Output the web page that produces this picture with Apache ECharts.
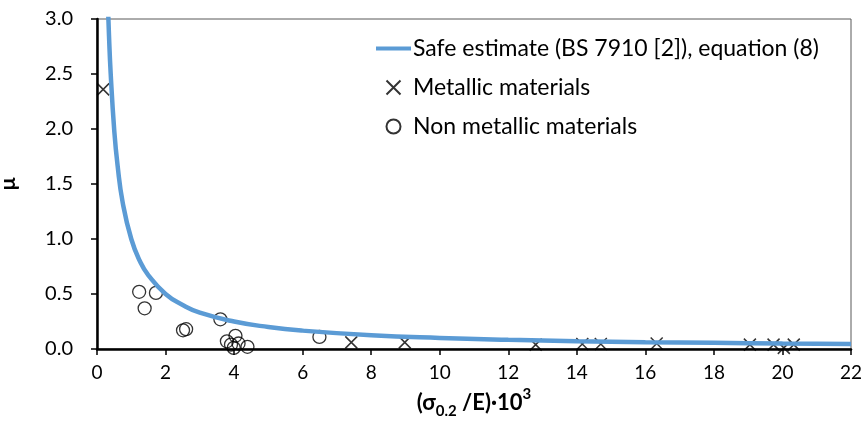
<!DOCTYPE html>
<html>
<head>
<meta charset="utf-8">
<script src="https://cdn.jsdelivr.net/npm/echarts@6/dist/echarts.min.js"></script>
<style>
  html, body { margin: 0; padding: 0; background: #fff; }
  #chart { width: 867px; height: 424px; }
</style>
</head>
<body>
<div id="chart"></div>
<script>
// safe estimate curve
var curveX = [0.31, 0.35, 0.4, 0.5, 0.6, 0.75, 1, 1.25, 1.5, 2, 2.5, 3, 4, 5, 6, 8, 10, 12, 14, 16, 18, 20, 22];
var curveY = [3.2, 2.85, 2.5, 2.0, 1.67, 1.33, 1.0, 0.8, 0.67, 0.5, 0.4, 0.33, 0.25, 0.2, 0.167, 0.125, 0.1, 0.083, 0.071, 0.062, 0.056, 0.05, 0.045];

// metallic materials (x markers)
var metalX = [0.18, 7.42, 8.98, 12.8, 14.16, 14.7, 16.33, 19.05, 19.74, 20.04, 20.33];
var metalY = [2.36, 0.06, 0.06, 0.04, 0.045, 0.045, 0.05, 0.04, 0.04, 0.01, 0.04];

// non metallic materials (circles)
var nonMetalX = [1.23, 1.72, 1.39, 2.51, 2.6, 3.6, 3.79, 4.04, 3.91, 4.13, 3.99, 4.39, 6.49];
var nonMetalY = [0.52, 0.51, 0.37, 0.17, 0.18, 0.27, 0.07, 0.12, 0.04, 0.05, 0.01, 0.02, 0.11];

var xTicks = { min: 0, max: 22, interval: 2 };
var yTicks = { min: 0, max: 3, interval: 0.5 };

var seriesNames = [
  "Safe estimate (BS 7910 [2]), equation (8)",
  "Metallic materials",
  "Non metallic materials"
];

function pairs(xs, ys) {
  return xs.map(function (x, i) { return [x, ys[i]]; });
}

var font = "Lato, 'Open Sans', sans-serif";
var chart = echarts.init(document.getElementById("chart"));

var option = {
  animation: false,
  textStyle: { fontFamily: font },
  grid: {
    left: 97,
    right: 16,
    top: 19,
    bottom: 75,
    outerBoundsMode: "none",
    show: true,
    borderColor: "#595959",
    borderWidth: 1
  },
  legend: {
    orient: "vertical",
    left: 371,
    top: 32,
    itemGap: 16,
    itemWidth: 35,
    itemHeight: 14,
    data: [
      { name: seriesNames[0], icon: "path://M0 0H35V4H0Z" },
      { name: seriesNames[1] },
      { name: seriesNames[2] }
    ],
    textStyle: { fontSize: 23, color: "#000", fontFamily: font, padding: [0, 0, 0, -3] }
  },
  xAxis: {
    type: "value",
    min: xTicks.min,
    max: xTicks.max,
    interval: xTicks.interval,
    name: "{m|(σ}{sub|0.2}{m| /E)·10}{sup|3}",
    nameLocation: "middle",
    nameGap: 36,
    nameTextStyle: {
      fontSize: 22,
      fontWeight: "bold",
      color: "#000",
      rich: {
        m: { fontSize: 22, fontWeight: "bold", color: "#000", lineHeight: 32, verticalAlign: "middle" },
        sub: { fontSize: 15, fontWeight: "bold", color: "#000", lineHeight: 16, verticalAlign: "bottom" },
        sup: { fontSize: 15, fontWeight: "bold", color: "#000", lineHeight: 22, verticalAlign: "top" }
      }
    },
    axisLine: { show: true, onZero: false, lineStyle: { color: "#000", width: 2.5 } },
    axisTick: { show: true, length: 6, lineStyle: { color: "#000", width: 1.5 } },
    axisLabel: { fontSize: 19, color: "#000", margin: 14 },
    splitLine: { show: false }
  },
  yAxis: {
    type: "value",
    min: yTicks.min,
    max: yTicks.max,
    interval: yTicks.interval,
    name: "μ",
    nameLocation: "middle",
    nameGap: 78,
    nameTextStyle: { fontSize: 21, fontWeight: "bold", color: "#000" },
    axisLine: { show: true, onZero: false, lineStyle: { color: "#000", width: 2.5 } },
    axisTick: { show: true, length: 6, lineStyle: { color: "#000", width: 1.5 } },
    axisLabel: {
      fontSize: 20,
      color: "#000",
      margin: 24,
      formatter: function (v) { return v.toFixed(1); }
    },
    splitLine: { show: false }
  },
  series: [
    {
      name: seriesNames[0],
      type: "line",
      z: 3,
      smooth: true,
      symbol: "none",
      lineStyle: { color: "#5B9BD5", width: 4.5 },
      itemStyle: { color: "#5B9BD5" },
      data: pairs(curveX, curveY)
    },
    {
      name: seriesNames[1],
      type: "scatter",
      symbol: "path://M0 0L10 10M10 0L0 10",
      symbolSize: 12,
      itemStyle: { color: "rgba(0,0,0,0)", borderColor: "#000", borderWidth: 1.5 },
      data: pairs(metalX, metalY)
    },
    {
      name: seriesNames[2],
      type: "scatter",
      symbol: "circle",
      symbolSize: 13,
      itemStyle: { color: "rgba(0,0,0,0)", borderColor: "#000", borderWidth: 1.3 },
      data: pairs(nonMetalX, nonMetalY)
    }
  ]
};

chart.setOption(option);
</script>
</body>
</html>
